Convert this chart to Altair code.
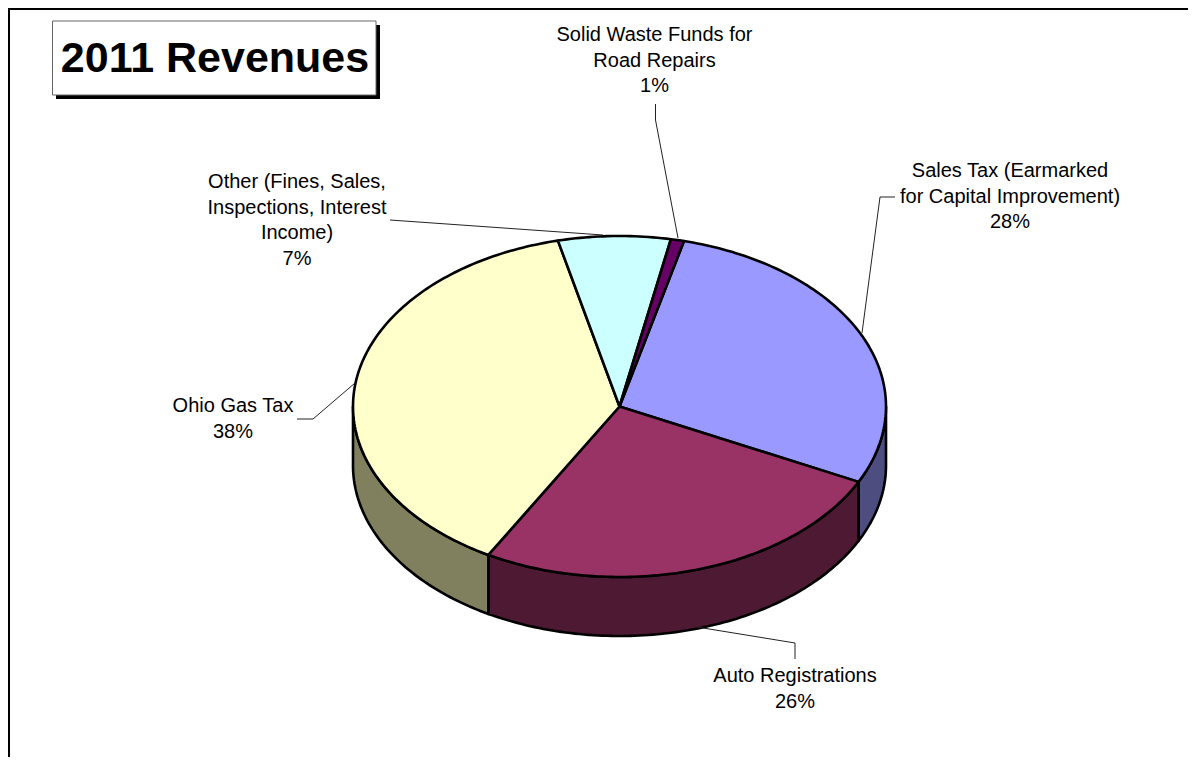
import math
import altair as alt
import pandas as pd

categories = ["Solid Waste Funds for Road Repairs", "Sales Tax", "Auto Registrations", "Ohio Gas Tax", "Other"]
shares = [0.8, 28.4, 25.9, 38.1, 6.8]
top_colors = ["#660066", "#9999FF", "#993366", "#FFFFCC", "#CCFFFF"]
side_colors = ["#330033", "#4D4D80", "#4D1933", "#80805F", "#668080"]

label_lines = [
    ["Solid Waste Funds for", "Road Repairs", "1%"],
    ["Sales Tax (Earmarked", "for Capital Improvement)", "28%"],
    ["Auto Registrations", "26%"],
    ["Ohio Gas Tax", "38%"],
    ["Other (Fines, Sales,", "Inspections, Interest", "Income)", "7%"],
]

OX, OY = 8, 8
CX, CY, RX, RY, DEPTH, START = 619.5 - OX, 406.5 - OY, 266.5, 170.5, 59, 14.0


def rim(t, drop=0.0):
    r = math.radians(t)
    return [CX + RX * math.sin(r), CY - RY * math.cos(r) + drop]


def feature(name, ring):
    return {"type": "Feature", "properties": {"name": name},
            "geometry": {"type": "Polygon", "coordinates": [ring + [ring[0]]]}}


def arc(a, b, drop=0.0):
    n = max(2, int(abs(b - a)) + 2)
    return [rim(a + (b - a) * i / (n - 1), drop) for i in range(n)]


order = [1, 2, 3, 4, 0]
tops, walls = [], []
angle = START
for i in order:
    a, b = angle, angle + shares[i] * 3.6
    angle = b
    tops.append(feature("top " + categories[i], arc(a, b) + [[CX, CY]]))
    lo, hi = max(a, 90), min(b, 270)
    if lo < hi:
        walls.append(feature("side " + categories[i], arc(lo, hi) + arc(hi, lo, DEPTH)))

color_scale = alt.Scale(domain=["top " + c for c in categories] + ["side " + c for c in categories],
                        range=top_colors + side_colors)


def shapes(features):
    return alt.Chart(alt.Data(values=features)).mark_geoshape(
        stroke="black", strokeWidth=2.6, strokeJoin="round"
    ).encode(
        color=alt.Color("properties.name:N", scale=color_scale, legend=None)
    ).project(type="identity", scale=1, translate=[0, 0])


PX = alt.X("x:Q", scale=None, axis=None)
PY = alt.Y("y:Q", scale=None, axis=None)

label_anchor = [(654.5, 35), (1010, 171), (795, 676), (233, 406), (297, 182)]
LINE = 25.5
text_rows = []
for anchor, lines in zip(label_anchor, label_lines):
    for j, t in enumerate(lines):
        text_rows.append({"x": anchor[0] - OX, "y": anchor[1] + j * LINE - OY, "t": t})
texts = alt.Chart(pd.DataFrame(text_rows)).mark_text(
    font="Liberation Sans", fontSize=20, color="black", align="center", baseline="middle"
).encode(x=PX, y=PY, text="t:N")

leaders = {
    "solid": [(655.5, 104), (655.5, 120), (678, 238)],
    "sales": [(895, 197), (880, 197), (862, 333)],
    "auto": [(795, 659), (795, 643), (697, 627)],
    "gas": [(297, 419), (313, 419), (355, 383)],
    "other": [(390, 220), (603, 235)],
}
leader_rows = [{"k": k, "i": i, "x": p[0] - OX, "y": p[1] - OY}
               for k, pts in leaders.items() for i, p in enumerate(pts)]
leader_marks = alt.Chart(pd.DataFrame(leader_rows)).mark_line(color="#222222", strokeWidth=1).encode(
    x=PX, y=PY, detail="k:N", order="i:Q"
)


def box(x, y, x2, y2, **kw):
    df = pd.DataFrame([{"x": x - OX, "y": y - OY, "x2": x2 - OX, "y2": y2 - OY}])
    return alt.Chart(df).mark_rect(**kw).encode(x=PX, y=PY, x2="x2:Q", y2="y2:Q")


shadow = box(56, 25, 380, 99, color="black")
panel = box(52.5, 21, 376, 95, fill="white", stroke="#666666", strokeWidth=1)
title = alt.Chart(pd.DataFrame([{"x": 215 - OX, "y": 59 - OY, "t": "2011 Revenues"}])).mark_text(
    font="Liberation Sans", fontSize=43, fontWeight="bold", color="black", align="center", baseline="middle"
).encode(x=PX, y=PY, text="t:N")

frame = alt.Chart(pd.DataFrame([
    {"k": "f", "i": 0, "x": 1, "y": 749}, {"k": "f", "i": 1, "x": 1, "y": 1},
    {"k": "f", "i": 2, "x": 1180, "y": 1},
])).mark_line(color="black", strokeWidth=2).encode(x=PX, y=PY, detail="k:N", order="i:Q")

chart = alt.layer(
    frame, shapes(walls), shapes(tops), leader_marks, texts, shadow, panel, title
).properties(
    width=1180, height=749, padding=0, autosize=alt.AutoSizeParams(type="none")
).configure_view(stroke=None)

chart.save("out.html", embed_options={"renderer": "svg", "actions": False})
